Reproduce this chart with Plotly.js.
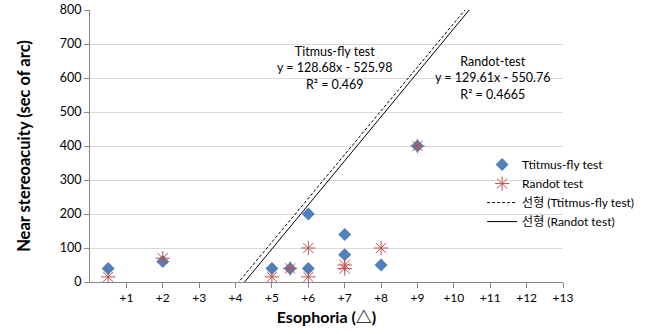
<!DOCTYPE html>
<html>
<head>
<meta charset="utf-8">
<script src="https://cdn.plot.ly/plotly-3.0.1.min.js"></script>
<style>html,body{margin:0;padding:0;background:#fff;}#chart{width:671px;height:334px;}</style>
</head>
<body>
<div id="chart"></div>
<script>
// Data
const titmusX = [0.5, 2, 5, 5.5, 6, 6, 7, 7, 8, 9];
const titmusY = [40, 60, 40, 40, 200, 40, 140, 80, 50, 400];
const randotX = [0.5, 2, 5, 5.5, 6, 6, 7, 7, 8, 9];
const randotY = [15, 70, 15, 40, 100, 15, 50, 40, 100, 400];
// Regression coefficients [slope, intercept]
const titmusFit = [128.68, -525.98];
const randotFit = [129.61, -550.76];
const fitX = [0, 13];
const xTickVals = [1,2,3,4,5,6,7,8,9,10,11,12,13];
const xTickText = ["+1","+2","+3","+4","+5","+6","+7","+8","+9","+10","+11","+12","+13"];
const yTickVals = [0,100,200,300,400,500,600,700,800];

const FONT = "Lato, 'Noto Sans CJK KR', sans-serif";
const fit = (c) => fitX.map(x => c[0]*x + c[1]);

const traces = [
  {x: titmusX, y: titmusY, type: 'scatter', mode: 'markers', name: 'Ttitmus-fly test',
   marker: {symbol: 'diamond', size: 10, color: '#4f81bd'}},
  {x: randotX, y: randotY, type: 'scatter', mode: 'markers', name: 'Randot test',
   marker: {symbol: 'asterisk-open', size: 12, color: '#c0504d', line: {color: '#c0504d', width: 1}}},
  {x: fitX, y: fit(titmusFit), type: 'scatter', mode: 'lines', name: '선형 (Ttitmus-fly test)',
   line: {color: '#000', width: 1, dash: '3px,2px'}},
  {x: fitX, y: fit(randotFit), type: 'scatter', mode: 'lines', name: '선형 (Randot test)',
   line: {color: '#000', width: 1}}
];

const layout = {
  width: 671, height: 334,
  margin: {l: 90, r: 108, t: 10, b: 52},
  paper_bgcolor: '#fff', plot_bgcolor: '#fff',
  font: {family: FONT, size: 12, color: '#404040'},
  showlegend: true,
  legend: {x: 0.829, y: 0.485, xanchor: 'left', yanchor: 'top', bgcolor: 'rgba(0,0,0,0)',
           font: {family: FONT, size: 12, color: '#000'}, tracegroupgap: 0},
  xaxis: {range: [0, 13], tickvals: xTickVals, ticktext: xTickText, showgrid: false, zeroline: false,
          showline: true, linecolor: '#868686', linewidth: 1, ticks: 'outside', ticklen: 5, tickcolor: '#868686',
          tickfont: {family: FONT, size: 12, color: '#000'},
          title: {text: 'Esophoria (△)', font: {family: FONT, size: 16, color: '#000', weight: 'bold'}, standoff: 7}},
  yaxis: {range: [0, 800], tickvals: yTickVals, showgrid: true, gridcolor: '#d9d9d9', zeroline: false,
          showline: true, linecolor: '#868686', linewidth: 1, ticks: 'outside', ticklen: 5, tickcolor: '#868686',
          tickfont: {family: FONT, size: 12.5, color: '#000'},
          title: {text: 'Near stereoacuity (sec of arc)', font: {family: FONT, size: 16.5, color: '#000', weight: 'bold'}, standoff: 24}},
  annotations: [
    {x: 6.73, y: 628, xref: 'x', yref: 'y', showarrow: false, align: 'center',
     text: 'Titmus-fly test<br>y = 128.68x - 525.98<br>R² = 0.469', font: {family: FONT, size: 12.5, color: '#000'}},
    {x: 11.05, y: 600, xref: 'x', yref: 'y', showarrow: false, align: 'center',
     text: 'Randot-test<br>y = 129.61x - 550.76<br>R² = 0.4665', font: {family: FONT, size: 12.5, color: '#000'}}
  ]
};

Plotly.newPlot('chart', traces, layout, {displayModeBar: false, staticPlot: true});
</script>
</body>
</html>
